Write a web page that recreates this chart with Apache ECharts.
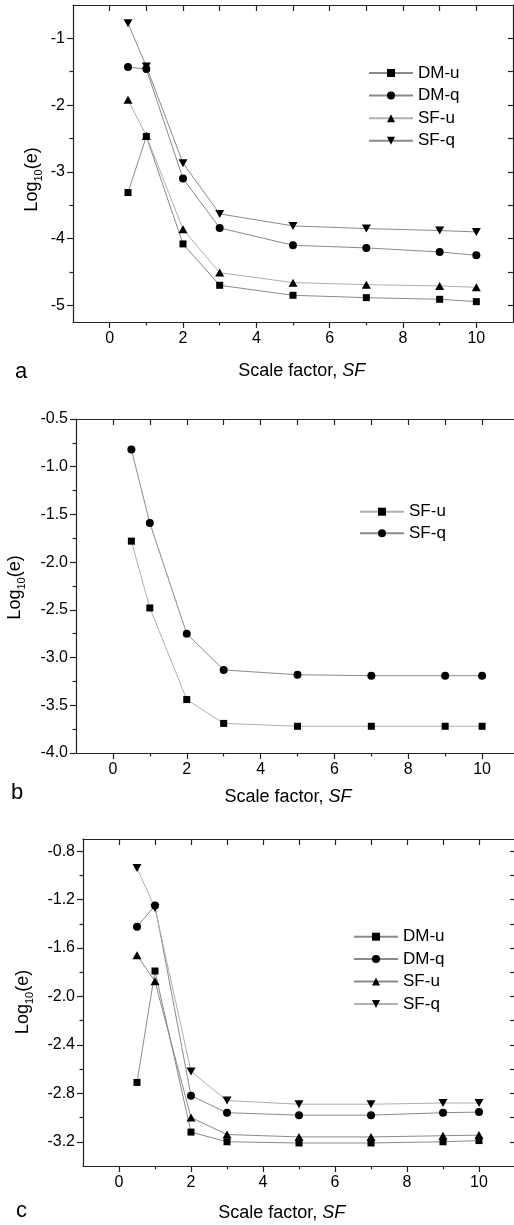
<!DOCTYPE html>
<html>
<head>
<meta charset="utf-8">
<script src="https://cdn.jsdelivr.net/npm/echarts@6/dist/echarts.min.js"></script>
<style>html,body{margin:0;padding:0;background:#fff}#c{width:514px;height:1225px}</style>
</head>
<body>
<div id="c"></div>
<script>
// ---- data ----
const xValues = [0.5, 1, 2, 3, 5, 7, 9, 10];

const aDMu = [-3.31, -2.47, -4.08, -4.70, -4.85, -4.885, -4.91, -4.945];
const aDMq = [-1.43, -1.46, -3.10, -3.84, -4.10, -4.14, -4.20, -4.25];
const aSFu = [-1.92, -2.46, -3.86, -4.51, -4.66, -4.69, -4.71, -4.73];
const aSFq = [-0.775, -1.42, -2.87, -3.63, -3.81, -3.85, -3.88, -3.90];

const bSFu = [-1.78, -2.48, -3.44, -3.69, -3.72, -3.72, -3.72, -3.72];
const bSFq = [-0.82, -1.59, -2.75, -3.13, -3.18, -3.19, -3.19, -3.19];

const cDMu = [-2.71, -1.79, -3.12, -3.20, -3.21, -3.21, -3.20, -3.19];
const cDMq = [-1.425, -1.25, -2.82, -2.96, -2.98, -2.98, -2.96, -2.955];
const cSFu = [-1.66, -1.875, -3.00, -3.14, -3.16, -3.16, -3.15, -3.145];
const cSFq = [-0.94, -1.27, -2.62, -2.86, -2.89, -2.89, -2.88, -2.88];

const xTickLabels = [0, 2, 4, 6, 8, 10];
const xMinorTicks = [1, 3, 5, 7, 9];
const xTopTicks = [0, 1, 2, 3, 4, 5, 6, 7, 8, 9, 10];

const aYTicks = [-5, -4, -3, -2, -1];
const aYMinor = [-4.5, -3.5, -2.5, -1.5];
const aYRight = [-5, -4.5, -4, -3.5, -3, -2.5, -2, -1.5, -1];

const bYTicks = [-4.0, -3.5, -3.0, -2.5, -2.0, -1.5, -1.0, -0.5];
const bYMinor = [-3.75, -3.25, -2.75, -2.25, -1.75, -1.25, -0.75];
const bYRight = [-3.5, -3.0, -2.5, -2.0, -1.5, -1.0];

const cYTicks = [-3.2, -2.8, -2.4, -2.0, -1.6, -1.2, -0.8];
const cYMinor = [-3.0, -2.6, -2.2, -1.8, -1.4, -1.0];
const cYRight = [-3.2, -3.0, -2.8, -2.6, -2.4, -2.2, -2.0, -1.8, -1.6, -1.4, -1.2, -1.0, -0.8];

// ---- styling / layout ----
const FONT = 'Liberation Sans, Arial, Helvetica, sans-serif';
const AX = '#222';
const LINE = '#8a8a8a';
const SYM = {
  sq: 'rect',
  ci: 'circle',
  up: 'path://M5,0 L10,9 L0,9 Z',
  dn: 'path://M0,0 L10,0 L5,9 Z'
};
const SYMSIZE = { sq: 7, ci: 8, up: [9, 8], dn: [9, 8] };

const panels = [
  { grid: { left: 73, top: 5, width: 440, height: 317 }, ymin: -5.25, ymax: -0.5, dec: 0,
    yT: aYTicks, yM: aYMinor, yR: aYRight,
    series: [['DM-u', aDMu, 'sq', LINE], ['DM-q', aDMq, 'ci', LINE], ['SF-u', aSFu, 'up', '#b0b0b0'], ['SF-q', aSFq, 'dn', LINE]],
    legend: { left: 368, top: 64.5, itemGap: 5.6 } },
  { grid: { left: 76, top: 419, width: 443, height: 334 }, ymin: -4, ymax: -0.5, dec: 1,
    yT: bYTicks, yM: bYMinor, yR: bYRight,
    series: [['SF-u ', bSFu, 'sq', '#b0b0b0'], ['SF-q ', bSFq, 'ci', LINE]],
    legend: { left: 359, top: 503.2, itemGap: 4.6 } },
  { grid: { left: 83, top: 839, width: 432, height: 327 }, ymin: -3.4, ymax: -0.7, dec: 1,
    yT: cYTicks, yM: cYMinor, yR: cYRight,
    series: [['DM-u  ', cDMu, 'sq', LINE], ['DM-q  ', cDMq, 'ci', LINE], ['SF-u  ', cSFu, 'up', LINE], ['SF-q  ', cSFq, 'dn', '#b0b0b0']],
    legend: { left: 353, top: 928.2, itemGap: 5.4 } }
];

const grids = [], xAxes = [], yAxes = [], series = [], legends = [];
panels.forEach((p, pi) => {
  grids.push(Object.assign({ containLabel: false, outerBoundsMode: 'none' }, p.grid));
  const base = { type: 'value', gridIndex: pi, splitLine: { show: false } };
  const line = { show: true, onZero: false, lineStyle: { color: AX, width: 1.2 } };
  const noLine = { show: false, onZero: false };
  const tickStyle = { color: AX, width: 1.2 };
  // x axes
  xAxes.push(Object.assign({}, base, { min: -1, max: 11, position: 'bottom', axisLine: line,
    axisTick: { show: true, inside: false, length: 6, lineStyle: tickStyle, customValues: xTickLabels },
    axisLabel: { show: true, customValues: xTickLabels, fontSize: 16, color: '#000', fontFamily: FONT, margin: 9 } }));
  xAxes.push(Object.assign({}, base, { min: -1, max: 11, position: 'bottom', axisLine: noLine,
    axisTick: { show: true, inside: false, length: 3.5, lineStyle: tickStyle, customValues: xMinorTicks },
    axisLabel: { show: false } }));
  xAxes.push(Object.assign({}, base, { min: -1, max: 11, position: 'top', axisLine: line,
    axisTick: { show: true, inside: true, length: 6, lineStyle: tickStyle, customValues: xTopTicks },
    axisLabel: { show: false } }));
  // y axes
  yAxes.push(Object.assign({}, base, { min: p.ymin, max: p.ymax, position: 'left', axisLine: line,
    axisTick: { show: true, inside: false, length: 6, lineStyle: tickStyle, customValues: p.yT },
    axisLabel: { show: true, customValues: p.yT, fontSize: 16, color: '#000', fontFamily: FONT, margin: 8,
      formatter: v => Number(v).toFixed(p.dec) } }));
  yAxes.push(Object.assign({}, base, { min: p.ymin, max: p.ymax, position: 'left', axisLine: noLine,
    axisTick: { show: true, inside: false, length: 3.5, lineStyle: tickStyle, customValues: p.yM },
    axisLabel: { show: false } }));
  yAxes.push(Object.assign({}, base, { min: p.ymin, max: p.ymax, position: 'right', axisLine: line,
    axisTick: { show: true, inside: true, length: 5, lineStyle: tickStyle, customValues: p.yR },
    axisLabel: { show: false } }));
  // series
  p.series.forEach(s => {
    series.push({
      name: s[0], type: 'line', xAxisIndex: pi * 3, yAxisIndex: pi * 3,
      data: xValues.map((x, i) => [x, s[1][i]]),
      symbol: SYM[s[2]], symbolSize: SYMSIZE[s[2]], showSymbol: true,
      lineStyle: { color: s[3], width: 1 },
      itemStyle: { color: '#000', borderWidth: 0 },
      emphasis: { disabled: true }, animation: false, z: 3
    });
  });
  legends.push({
    orient: 'vertical', left: p.legend.left, top: p.legend.top, itemGap: p.legend.itemGap,
    padding: 0, itemWidth: 44, itemHeight: 10, selectedMode: false,
    data: p.series.map(s => s[0]),
    formatter: n => n.trim(),
    textStyle: { fontSize: 17, color: '#000', fontFamily: FONT, lineHeight: 17 }
  });
});

const richY = {
  n: { fontSize: 18, fontFamily: FONT, fill: '#000', lineHeight: 24 },
  s: { fontSize: 11, fontFamily: FONT, fill: '#000', verticalAlign: 'bottom', lineHeight: 13 }
};
const richX = {
  n: { fontSize: 18, fontFamily: FONT, fill: '#000' },
  i: { fontSize: 18, fontFamily: FONT, fill: '#000', fontStyle: 'italic' }
};
function yTitle(x, y) {
  return { type: 'text', x: x, y: y, rotation: Math.PI / 2, silent: true,
    style: { text: '{n|Log}{s|10}{n|(e)}', rich: richY, align: 'center', verticalAlign: 'middle', fill: '#000' } };
}
function xTitle(x, y) {
  return { type: 'text', x: x, y: y, silent: true,
    style: { text: '{n|Scale factor, }{i|SF}', rich: richX, align: 'center', verticalAlign: 'middle', fill: '#000' } };
}
function letter(t, x, y) {
  return { type: 'text', x: x, y: y, silent: true,
    style: { text: t, fontSize: 22, fontFamily: FONT, fill: '#000', align: 'center', verticalAlign: 'middle' } };
}

const chart = echarts.init(document.getElementById('c'), null, { renderer: 'canvas' });
chart.setOption({
  animation: false,
  backgroundColor: '#fff',
  grid: grids,
  xAxis: xAxes,
  yAxis: yAxes,
  series: series,
  legend: legends,
  graphic: [
    yTitle(32, 179.5), xTitle(301.7, 370.7), letter('a', 21, 372),
    yTitle(15, 587.5), xTitle(288, 797), letter('b', 17, 793),
    yTitle(23, 1002), xTitle(281.7, 1213), letter('c', 21.5, 1211)
  ]
});
</script>
</body>
</html>
